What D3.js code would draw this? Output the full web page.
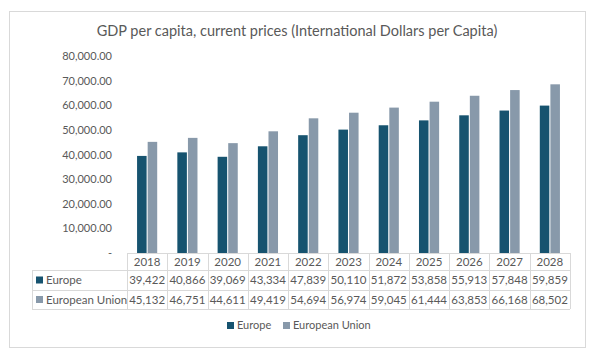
<!DOCTYPE html>
<html><head><meta charset="utf-8">
<script src="https://cdn.jsdelivr.net/npm/d3@7"></script>
<style>body{margin:0;background:#fff}svg{display:block}text{font-family:Lato,"Open Sans",sans-serif;fill:#595959}</style>
</head><body><svg id="c" width="594" height="357"></svg>
<script>
const years = ["2018","2019","2020","2021","2022","2023","2024","2025","2026","2027","2028"];
const seriesNames = ["Europe","European Union"];
const europe = [39422,40866,39069,43334,47839,50110,51872,53858,55913,57848,59859];
const eu = [45132,46751,44611,49419,54694,56974,59045,61444,63853,66168,68502];
const yTicks = [0,10000,20000,30000,40000,50000,60000,70000,80000];
const colors = ["#16536f","#8899aa"];
const title = "GDP per capita, current prices (International Dollars per Capita)";

const values = [europe, eu];
const svg = d3.select("#c");
svg.append("rect").attr("x",9.5).attr("y",11.5).attr("width",576).attr("height",336)
  .attr("fill","#fff").attr("stroke","#d9d9d9");
svg.append("text").attr("x",297).attr("y",36).attr("text-anchor","middle")
  .style("font-size","14.5px").text(title);

const x = d3.scaleBand().domain(years).range([127,570]);
const y = d3.scaleLinear().domain([0,80000]).range([253,56]);
const x1 = d3.scaleBand().domain(seriesNames).range([x.bandwidth()*0.25, x.bandwidth()*0.75]).paddingInner(0.1);

// y axis labels
const fmt = d3.format(",.2f");
svg.append("g").selectAll("text").data(yTicks).join("text")
  .attr("x",112).attr("y",d=>y(d)+4).attr("text-anchor","end").style("font-size","11px")
  .text(d=>d===0?"-":fmt(d));

// bars
seriesNames.forEach((s,i)=>{
  svg.append("g").selectAll("rect").data(years).join("rect")
    .attr("x",d=>x(d)+x1(s)).attr("width",x1.bandwidth())
    .attr("y",(d,j)=>y(values[i][j])).attr("height",(d,j)=>y(0)-y(values[i][j]))
    .attr("fill",colors[i]);
});

// table
const rowTop = [253,270,290,309];
const tg = svg.append("g");
const lc = "#d9d9d9";
// horizontal lines
tg.append("line").attr("x1",127).attr("x2",570).attr("y1",rowTop[0]+.5).attr("y2",rowTop[0]+.5).attr("stroke",lc);
[1,2,3].forEach(k=>tg.append("line").attr("x1",32).attr("x2",570).attr("y1",rowTop[k]+.5).attr("y2",rowTop[k]+.5).attr("stroke",lc));
// vertical lines
tg.append("line").attr("x1",32.5).attr("x2",32.5).attr("y1",rowTop[1]).attr("y2",rowTop[3]).attr("stroke",lc);
years.concat(["end"]).forEach((d,k)=>{
  const xx = k<years.length ? x(d) : x.range()[1];
  tg.append("line").attr("x1",Math.round(xx)+.5).attr("x2",Math.round(xx)+.5).attr("y1",rowTop[0]).attr("y2",rowTop[3]).attr("stroke",lc);
});
tg.selectAll("text.yr").data(years).join("text").attr("class","yr")
  .attr("x",d=>x(d)+x.bandwidth()/2).attr("y",266).attr("text-anchor","middle").style("font-size","11.5px").text(d=>d);
const nf = d3.format(",");
seriesNames.forEach((s,i)=>{
  const cy = (rowTop[i+1]+rowTop[i+2])/2;
  tg.append("rect").attr("x",36).attr("y",cy-3.5).attr("width",7).attr("height",7).attr("fill",colors[i]);
  tg.append("text").attr("x",46).attr("y",cy+4).style("font-size","11.5px").text(s);
  tg.selectAll("text.v"+i).data(years).join("text").attr("class","v"+i)
    .attr("x",d=>x(d)+x.bandwidth()/2).attr("y",cy+4).attr("text-anchor","middle").style("font-size","11.5px")
    .text((d,j)=>nf(values[i][j]));
});

// legend
const lg = svg.append("g");
const legX = [227,283];
seriesNames.forEach((s,i)=>{
  lg.append("rect").attr("x",legX[i]).attr("y",322).attr("width",7).attr("height",7).attr("fill",colors[i]);
  lg.append("text").attr("x",legX[i]+10).attr("y",329).style("font-size","11px").text(s);
});
</script></body></html>
